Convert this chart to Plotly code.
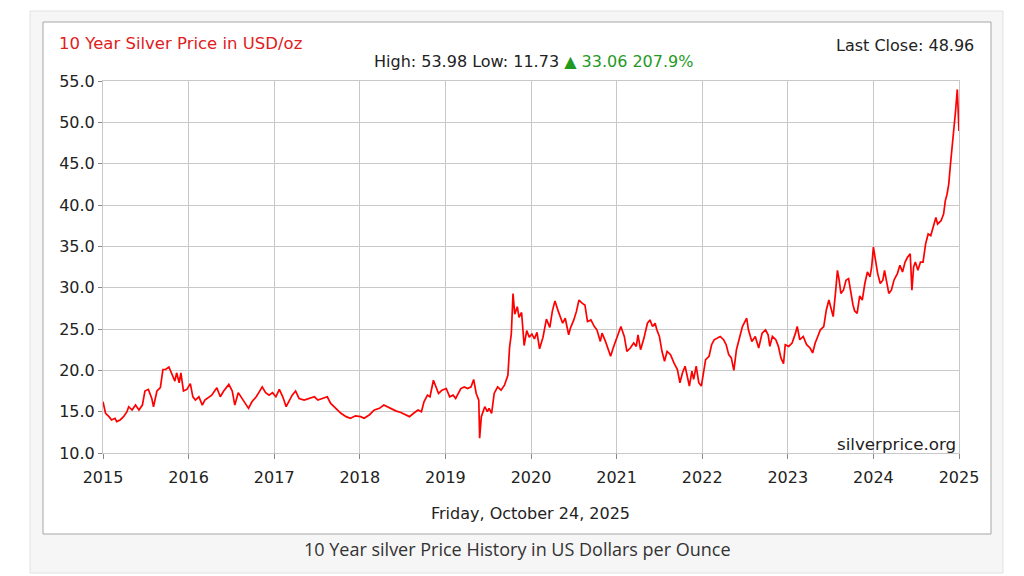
import plotly.graph_objects as go

# ---- data ----
years = [
    2015.00, 2015.03, 2015.07, 2015.10, 2015.14, 2015.16, 2015.20, 2015.24, 2015.28, 2015.30,
    2015.34, 2015.38, 2015.42, 2015.46, 2015.49, 2015.53, 2015.57, 2015.59, 2015.63, 2015.67,
    2015.70, 2015.73, 2015.77, 2015.80, 2015.84, 2015.86, 2015.89, 2015.91, 2015.94, 2015.98,
    2016.02, 2016.05, 2016.08, 2016.12, 2016.16, 2016.19, 2016.27, 2016.33, 2016.37, 2016.41,
    2016.47, 2016.51, 2016.54, 2016.58, 2016.64, 2016.70, 2016.74,
    2016.79, 2016.82, 2016.86, 2016.90, 2016.94, 2016.98, 2017.02, 2017.06, 2017.10, 2017.14,
    2017.18, 2017.21, 2017.25, 2017.29, 2017.35, 2017.41, 2017.47, 2017.51, 2017.56, 2017.62,
    2017.66, 2017.72, 2017.78, 2017.84, 2017.89, 2017.95, 2018.01, 2018.05, 2018.11, 2018.17,
    2018.23, 2018.28, 2018.32, 2018.36, 2018.42, 2018.48, 2018.54,
    2018.58, 2018.64, 2018.68, 2018.72, 2018.75, 2018.79, 2018.82, 2018.86, 2018.89, 2018.92,
    2018.96, 2019.01, 2019.05, 2019.09, 2019.12, 2019.18, 2019.22, 2019.26, 2019.30, 2019.33,
    2019.36, 2019.39, 2019.40, 2019.42, 2019.46, 2019.49, 2019.51, 2019.54, 2019.57, 2019.61,
    2019.65, 2019.69, 2019.73, 2019.75, 2019.77, 2019.79, 2019.81, 2019.84, 2019.86, 2019.89,
    2019.92, 2019.95, 2019.98, 2020.01, 2020.04, 2020.07, 2020.10, 2020.14, 2020.18, 2020.22,
    2020.25, 2020.28,
    2020.32, 2020.35, 2020.37, 2020.40, 2020.44, 2020.46, 2020.50, 2020.53, 2020.56, 2020.60,
    2020.63, 2020.66, 2020.70, 2020.74, 2020.77, 2020.81, 2020.83, 2020.87, 2020.90, 2020.93,
    2020.96, 2020.99, 2021.02, 2021.05, 2021.09, 2021.12, 2021.16, 2021.20, 2021.23, 2021.25,
    2021.28, 2021.32, 2021.36, 2021.39, 2021.42, 2021.45, 2021.47, 2021.50, 2021.53, 2021.56,
    2021.59, 2021.63, 2021.67, 2021.71, 2021.74, 2021.77, 2021.80, 2021.83, 2021.85, 2021.88,
    2021.90, 2021.93, 2021.96, 2021.99, 2022.02, 2022.04, 2022.08, 2022.11,
    2022.14, 2022.18, 2022.21, 2022.25, 2022.28, 2022.31, 2022.34, 2022.37, 2022.40, 2022.43,
    2022.47, 2022.49, 2022.52, 2022.54, 2022.58, 2022.62, 2022.66, 2022.70, 2022.74, 2022.77,
    2022.79, 2022.82, 2022.86, 2022.89, 2022.92, 2022.95, 2022.97, 2023.01, 2023.05, 2023.09,
    2023.11, 2023.14, 2023.18, 2023.22, 2023.26, 2023.29, 2023.32, 2023.35, 2023.38, 2023.42,
    2023.45, 2023.48, 2023.51, 2023.53, 2023.56, 2023.58, 2023.60, 2023.62, 2023.65, 2023.68,
    2023.71, 2023.73,
    2023.76, 2023.78, 2023.81, 2023.84, 2023.87, 2023.90, 2023.93, 2023.96, 2023.98, 2024.00,
    2024.02, 2024.05, 2024.08, 2024.11, 2024.13, 2024.16, 2024.18, 2024.21, 2024.24, 2024.28,
    2024.31, 2024.34, 2024.37, 2024.40, 2024.43, 2024.45, 2024.47, 2024.49, 2024.52, 2024.55,
    2024.58, 2024.61, 2024.64, 2024.67, 2024.70, 2024.73, 2024.75, 2024.79, 2024.82, 2024.84,
    2024.86, 2024.88, 2024.90, 2024.92, 2024.94, 2024.96, 2024.98, 2024.99, 2025.00,
]

prices = [
    16.2, 14.8, 14.4, 14.0, 14.2, 13.8, 14.0, 14.4, 15.0, 15.6,
    15.2, 15.8, 15.2, 15.8, 17.5, 17.7, 16.6, 15.6, 17.5, 17.9,
    20.1, 20.1, 20.4, 19.7, 18.7, 19.7, 18.5, 19.7, 17.5, 17.7,
    18.4, 16.8, 16.4, 16.8, 15.8, 16.4, 17.0, 17.9, 16.8, 17.5,
    18.3, 17.5, 15.8, 17.3, 16.4, 15.4, 16.2,
    16.8, 17.3, 18.0, 17.3, 17.0, 17.3, 16.8, 17.7, 16.8, 15.6,
    16.4, 17.0, 17.5, 16.6, 16.4, 16.6, 16.8, 16.4, 16.6, 16.8,
    16.0, 15.4, 14.8, 14.4, 14.2, 14.5, 14.4, 14.2, 14.6, 15.2,
    15.4, 15.8, 15.6, 15.4, 15.1, 14.9, 14.6,
    14.4, 14.9, 15.2, 15.0, 16.2, 17.0, 16.8, 18.8, 18.0, 17.2,
    17.6, 17.8, 16.8, 17.0, 16.6, 17.8, 18.0, 17.8, 18.0, 18.9,
    17.2, 16.4, 11.8, 14.4, 15.6, 15.0, 15.4, 14.8, 17.2, 18.0,
    17.6, 18.2, 19.4, 22.8, 24.4, 29.3, 26.8, 27.7, 26.4, 27.0,
    23.0, 24.8, 24.0, 24.4, 23.8, 24.6, 22.6, 24.0, 26.2, 25.2,
    27.2, 28.4,
    27.1, 26.1, 25.7, 26.3, 24.3, 25.1, 26.1, 27.1, 28.5, 28.1,
    27.9, 25.9, 26.1, 25.3, 24.9, 23.5, 24.5, 23.5, 22.7, 21.7,
    22.7, 23.5, 24.5, 25.3, 24.1, 22.3, 22.7, 23.3, 22.9, 24.3,
    22.5, 23.9, 25.7, 26.1, 25.3, 25.7, 24.9, 24.1, 22.3, 21.1,
    22.3, 21.9, 20.9, 20.1, 18.5, 19.7, 20.5, 18.9, 18.1, 19.9,
    18.9, 20.5, 18.5, 18.1, 19.9, 21.3, 21.7, 23.1,
    23.7, 23.9, 24.1, 23.7, 23.1, 21.9, 21.5, 20.0, 22.5, 23.7,
    25.3, 25.7, 26.3, 24.9, 23.5, 24.1, 22.7, 24.5, 24.9, 24.3,
    22.9, 24.1, 23.7, 22.9, 21.5, 20.8, 23.1, 22.9, 23.3, 24.5,
    25.3, 23.7, 24.1, 23.1, 22.7, 22.1, 23.3, 24.1, 24.9, 25.3,
    27.3, 28.5, 27.3, 26.5, 29.7, 32.1, 30.9, 29.3, 29.7, 30.9,
    31.1, 29.7,
    28.0, 27.2, 26.9, 29.0, 28.5, 30.5, 31.9, 31.3, 32.5, 34.9,
    33.7, 31.7, 30.5, 30.9, 32.1, 30.5, 29.3, 29.7, 30.9, 31.7,
    32.7, 31.9, 33.1, 33.7, 34.1, 29.7, 32.5, 33.1, 32.1, 33.1,
    33.1, 35.3, 36.5, 36.3, 37.3, 38.5, 37.7, 38.1, 38.9, 40.5,
    41.3, 42.5, 44.9, 46.9, 48.6, 51.4, 53.98, 51.8, 48.96,
]

x_ticks = [2015, 2016, 2017, 2018, 2019, 2020, 2021, 2022, 2023, 2024, 2025]
x_tick_labels = ["2015", "2016", "2017", "2018", "2019", "2020", "2021", "2022", "2023", "2024", "2025"]
y_ticks = [10, 15, 20, 25, 30, 35, 40, 45, 50, 55]
y_tick_labels = ["10.0", "15.0", "20.0", "25.0", "30.0", "35.0", "40.0", "45.0", "50.0", "55.0"]

title_text = "10 Year Silver Price in USD/oz"
last_close_text = "Last Close: 48.96"
high_low_text = "High: 53.98 Low: 11.73"
change_text = "\u25b2 33.06 207.9%"
date_text = "Friday, October 24, 2025"
watermark_text = "silverprice.org"
caption_text = "10 Year silver Price History in US Dollars per Ounce"

# ---- layout helpers (figure pixels -> paper fractions) ----
W, H = 1024, 576


def px(x):
    return x / W


def py(y):
    return 1 - y / H


FONT = "DejaVu Sans"
GRID = "#c8c8c8"

fig = go.Figure()
fig.add_trace(go.Scatter(
    x=years, y=prices, mode="lines",
    line=dict(color="#ff0000", width=1.7),
    hoverinfo="x+y", showlegend=False,
))

shapes = [
    dict(type="rect", xref="paper", yref="paper",
         x0=px(30), x1=px(1003), y0=py(573), y1=py(11),
         fillcolor="#f6f6f6", line=dict(color="#e2e2e2", width=1), layer="below"),
    dict(type="rect", xref="paper", yref="paper",
         x0=px(43), x1=px(991), y0=py(534), y1=py(22),
         fillcolor="#ffffff", line=dict(color="#a6a6a6", width=1), layer="below"),
]

annotations = [
    dict(text=title_text, x=px(57), y=py(43), xref="paper", yref="paper",
         xanchor="left", yanchor="middle", showarrow=False,
         font=dict(family=FONT, size=16.5, color="#e0201c")),
    dict(text=last_close_text, x=px(976), y=py(45), xref="paper", yref="paper",
         xanchor="right", yanchor="middle", showarrow=False,
         font=dict(family=FONT, size=16, color="#222222")),
    dict(text=high_low_text + " <span style='color:#1f9a1f'>" + change_text + "</span>",
         x=px(533), y=py(62), xref="paper", yref="paper",
         xanchor="center", yanchor="middle", showarrow=False,
         font=dict(family=FONT, size=16, color="#222222")),
    dict(text=watermark_text, x=px(958), y=py(444), xref="paper", yref="paper",
         xanchor="right", yanchor="middle", showarrow=False,
         font=dict(family=FONT, size=16.7, color="#222222")),
    dict(text=date_text, x=px(530), y=py(513), xref="paper", yref="paper",
         xanchor="center", yanchor="middle", showarrow=False,
         font=dict(family=FONT, size=16, color="#222222")),
    dict(text=caption_text, x=px(517), y=py(549), xref="paper", yref="paper",
         xanchor="center", yanchor="middle", showarrow=False,
         font=dict(family="Open Sans", size=18, color="#333333")),
]

fig.update_layout(
    template="none",
    width=W, height=H,
    margin=dict(l=0, r=0, t=0, b=0, pad=0, autoexpand=False),
    paper_bgcolor="#ffffff",
    plot_bgcolor="#ffffff",
    shapes=shapes,
    annotations=annotations,
    showlegend=False,
    xaxis=dict(
        domain=[px(103), px(959)], range=[2015, 2025],
        tickvals=x_ticks, ticktext=x_tick_labels, automargin=False,
        showgrid=True, gridcolor=GRID, gridwidth=1,
        zeroline=False, showline=True, linecolor=GRID, mirror=True,
        ticks="outside", ticklen=5, tickcolor="#888888",
        ticklabelstandoff=5,
        tickfont=dict(family=FONT, size=16, color="#222222"),
        fixedrange=True,
    ),
    yaxis=dict(
        domain=[py(453), py(81)], range=[10, 55],
        tickvals=y_ticks, ticktext=y_tick_labels, automargin=False,
        showgrid=True, gridcolor=GRID, gridwidth=1,
        zeroline=False, showline=True, linecolor=GRID, mirror=True,
        ticks="outside", ticklen=4, tickcolor="#888888",
        tickfont=dict(family=FONT, size=16, color="#222222"),
        fixedrange=True,
    ),
)

fig.write_html("out.html")
